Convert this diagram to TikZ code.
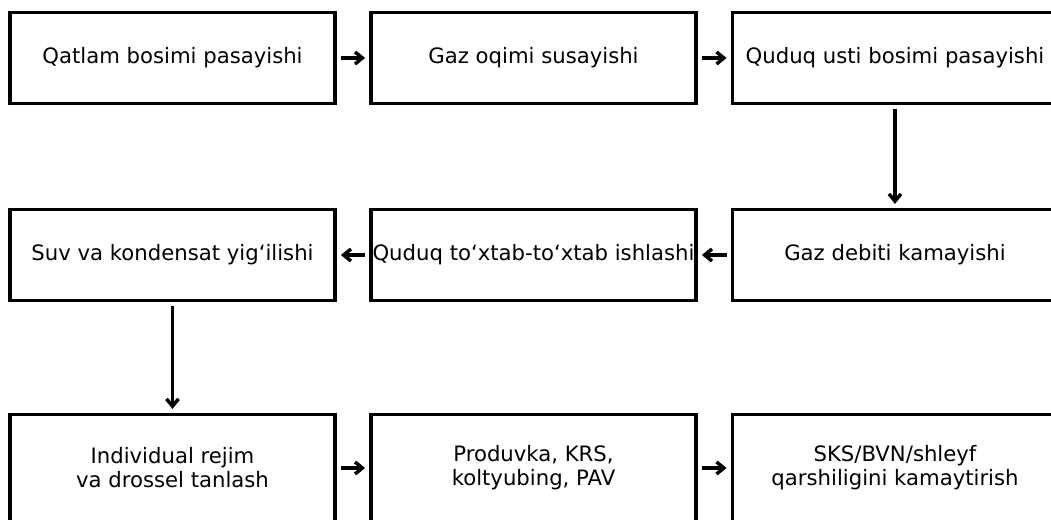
\documentclass[tikz,border=0pt]{standalone}
\usepackage{fontspec}
\setmainfont{DejaVu Sans}
\usetikzlibrary{arrows.meta}
\usetikzlibrary{positioning}

\begin{document}
\begin{tikzpicture}[x=0.75pt, y=-0.75pt, >={Straight Barb[length=5.5pt,width=9pt]},
                    stage/.style = {rectangle, draw, line width=2.6pt, align=center,
                                    inner xsep=1pt, minimum width=244pt, minimum height=68pt,
                                    font=\fontsize{15.9}{18}\selectfont},
                    tall/.style = {minimum height=80pt},
                    flow/.style = {->, line width=2.6pt, shorten >=3pt, shorten <=3pt}]
  \useasboundingbox (0,0) rectangle (1051,520);
  % first row
  \node [stage] (fall) at (172.5,58) {Qatlam bosimi pasayishi};
  \node [stage] (gas) at (533.5,58) {Gaz oqimi susayishi};
  \node [stage] (head) at (895,58) {Quduq usti bosimi pasayishi};
  % second row
  \node [stage] (rate) at (895,255) {Gaz debiti kamayishi};
  \node [stage] (stop) at (533.5,255) {Quduq to‘xtab-to‘xtab ishlashi};
  \node [stage] (water) at (172.5,255) {Suv va kondensat yig‘ilishi};
  % third row
  \node [stage, tall] (mode) at (172.5,468) {Individual rejim\\va drossel tanlash};
  \node [stage, tall] (blow) at (533.5,468) {Produvka, KRS,\\koltyubing, PAV};
  \node [stage, tall] (loss) at (895,468) {SKS/BVN/shleyf\\qarshiligini kamaytirish};

  \draw [flow] (fall) -- (gas);
  \draw [flow] (gas) -- (head);
  \draw [flow] (head) -- (rate);
  \draw [flow] (rate) -- (stop);
  \draw [flow] (stop) -- (water);
  \draw [flow] (water) -- (mode);
  \draw [flow] (mode) -- (blow);
  \draw [flow] (blow) -- (loss);
\end{tikzpicture}
\end{document}
